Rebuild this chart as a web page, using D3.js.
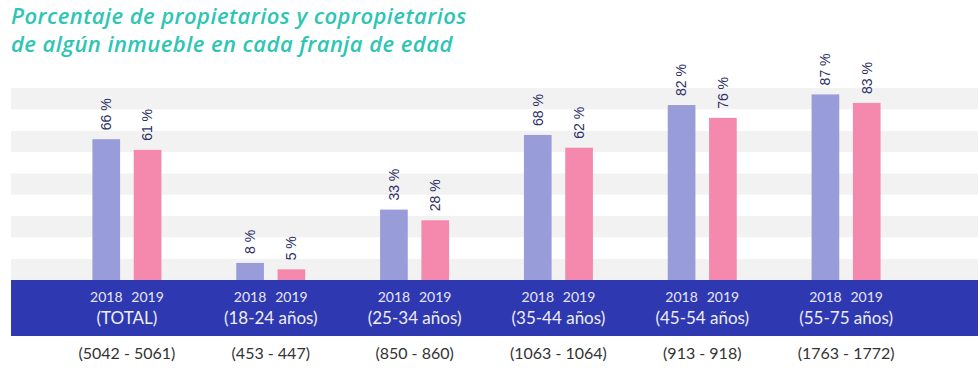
<!DOCTYPE html>
<html>
<head>
<meta charset="utf-8">
<script src="https://cdn.jsdelivr.net/npm/d3@7"></script>
<style>
  html, body { margin: 0; padding: 0; background: #fff; }
  svg { display: block; }
</style>
</head>
<body>
<div id="chart"></div>
<script>
// data
const categories = ['(TOTAL)', '(18-24 años)', '(25-34 años)', '(35-44 años)', '(45-54 años)', '(55-75 años)'];
const sampleSizes = ['(5042 - 5061)', '(453 - 447)', '(850 - 860)', '(1063 - 1064)', '(913 - 918)', '(1763 - 1772)'];
const years = ['2018', '2019'];
const values2018 = [66, 8, 33, 68, 82, 87];
const values2019 = [61, 5, 28, 62, 76, 83];
const stripeTicks = [0, 10, 20, 30, 40, 50, 60, 70, 80];
const titleLines = ['Porcentaje de propietarios y copropietarios', 'de algún inmueble en cada franja de edad'];

const width = 980, height = 371;
const colors = { '2018': '#989cd8', '2019': '#f489ad' };

const svg = d3.select('#chart').append('svg')
    .attr('width', width)
    .attr('height', height);

// title, one text per line
svg.append('g').selectAll('text').data(titleLines).join('text')
    .attr('x', 11)
    .attr('y', (d, i) => 24 + i * 28)
    .attr('fill', '#2ec5b4')
    .style('font-family', '"Open Sans", sans-serif')
    .style('font-style', 'italic')
    .style('font-weight', 600)
    .style('font-size', '22px')
    .style('letter-spacing', '0.45px')
    .text(d => d);

// scales
const y = d3.scaleLinear().domain([0, 90]).range([280, 88]);
const x0 = d3.scaleBand().domain(categories).range([55, 918]);
const x1 = d3.scaleBand().domain(years).range([-34.5, 34.5]).paddingInner(0.33);

// background stripes
svg.append('g').selectAll('rect').data(stripeTicks).join('rect')
    .attr('x', 11)
    .attr('width', 967)
    .attr('y', d => y(d + 10))
    .attr('height', d => y(d) - y(d + 10))
    .attr('fill', (d, i) => i % 2 === 0 ? '#f2f2f2' : '#ffffff');

const rows = categories.map((c, i) => ({
    cat: c,
    sample: sampleSizes[i],
    bars: [
        { year: '2018', value: values2018[i] },
        { year: '2019', value: values2019[i] }
    ]
}));

const groups = svg.append('g').selectAll('g').data(rows).join('g')
    .attr('transform', d => `translate(${x0(d.cat) + x0.bandwidth() / 2},0)`);

groups.selectAll('rect').data(d => d.bars).join('rect')
    .attr('x', d => x1(d.year))
    .attr('width', x1.bandwidth())
    .attr('y', d => y(d.value))
    .attr('height', d => y(0) - y(d.value))
    .attr('fill', d => colors[d.year]);

// value labels, rotated
groups.selectAll('text.val').data(d => d.bars).join('text')
    .attr('class', 'val')
    .attr('transform', d => `translate(${x1(d.year) + x1.bandwidth() / 2},${y(d.value) - 9}) rotate(-90)`)
    .attr('dy', '0.35em')
    .attr('fill', '#2b2f66')
    .style('font-family', '"Liberation Sans", Arial, sans-serif')
    .style('font-size', '14px')
    .text(d => d.value + ' %');

// axis band
svg.append('rect')
    .attr('x', 11)
    .attr('y', 280)
    .attr('width', 967)
    .attr('height', 56)
    .attr('fill', '#2e38b1');

const xAxis = svg.append('g').attr('transform', 'translate(0,280)')
    .call(d3.axisBottom(x0).tickSize(0).tickPadding(0));
xAxis.select('.domain').remove();
xAxis.selectAll('.tick text').remove();

const ticks = xAxis.selectAll('.tick');
ticks.selectAll('text.yr').data(years).join('text')
    .attr('class', 'yr')
    .attr('x', d => x1(d) + x1.bandwidth() / 2)
    .attr('y', 22)
    .attr('text-anchor', 'middle')
    .attr('fill', '#e6e6f7')
    .style('font-family', 'Lato, sans-serif')
    .style('font-size', '14px')
    .text(d => d);

ticks.append('text')
    .attr('y', 44)
    .attr('text-anchor', 'middle')
    .attr('fill', '#eeeef8')
    .style('font-family', 'Lato, sans-serif')
    .style('font-size', '17px')
    .text(d => d);

ticks.append('text')
    .attr('y', 79)
    .attr('text-anchor', 'middle')
    .attr('fill', '#333333')
    .style('font-family', 'Lato, sans-serif')
    .style('font-size', '16px')
    .text((d, i) => sampleSizes[i]);
</script>
</body>
</html>
